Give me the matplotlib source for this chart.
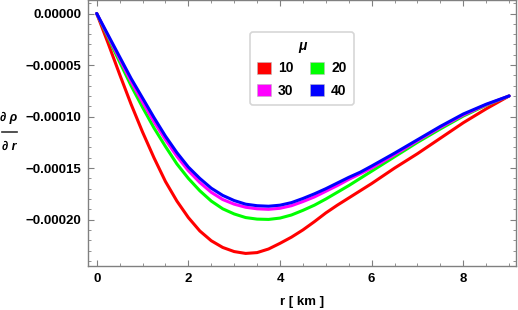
import numpy as np
import matplotlib
matplotlib.use("Agg")
import matplotlib.pyplot as plt
from matplotlib.patches import Patch
from matplotlib.lines import Line2D
from matplotlib.ticker import MultipleLocator, FuncFormatter

plt.rcParams['font.family'] = ['Liberation Sans', 'DejaVu Sans']

# radius in km
r = [0, 0.25, 0.5, 0.75, 1.0, 1.25, 1.5, 1.75, 2.0, 2.25, 2.5, 2.75, 3.0, 3.25, 3.5, 3.75,
     4.0, 4.25, 4.5, 4.75, 5.0, 5.25, 5.5, 5.75, 6.0, 6.5, 7.0, 7.5, 8.0, 8.5, 9.0]

# d rho / d r, in units of 1e-5
drho_10 = [0, -2.9, -5.9, -8.8, -11.5, -14.0, -16.3, -18.2, -19.8, -21.1, -22.05, -22.7, -23.1, -23.28, -23.2, -22.85,
           -22.3, -21.7, -21.0, -20.2, -19.35, -18.6, -17.9, -17.2, -16.5, -15.0, -13.6, -12.1, -10.6, -9.25, -8.0]
drho_20 = [0, -2.35, -4.7, -7.0, -9.1, -11.1, -12.9, -14.6, -16.0, -17.2, -18.2, -18.95, -19.45, -19.8, -19.95, -19.98,
           -19.85, -19.55, -19.1, -18.6, -18.0, -17.35, -16.7, -16.0, -15.3, -13.9, -12.5, -11.2, -9.95, -8.9, -8.0]
drho_30 = [0, -2.2, -4.4, -6.6, -8.6, -10.5, -12.25, -13.85, -15.25, -16.4, -17.35, -18.05, -18.5, -18.8, -18.95, -19.0,
           -18.9, -18.65, -18.25, -17.8, -17.25, -16.7, -16.1, -15.55, -15.0, -13.7, -12.35, -11.05, -9.85, -8.85, -8.0]
drho_40 = [0, -2.1, -4.2, -6.3, -8.2, -10.1, -11.9, -13.5, -14.9, -16.0, -16.95, -17.65, -18.15, -18.5, -18.65, -18.7,
           -18.6, -18.35, -17.95, -17.5, -17.0, -16.45, -15.9, -15.4, -14.8, -13.55, -12.25, -10.95, -9.75, -8.8, -8.0]

mu_labels = ['10', '20', '30', '40']
colors = ['#ff0000', '#00ff00', '#ff00ff', '#0000ff']
series = [drho_10, drho_20, drho_30, drho_40]

fig = plt.figure(figsize=(5.18, 3.10), dpi=100)
ax = fig.add_axes([88/518, 44/310, 428/518, 266/310])

for ys, c in zip(series, colors):
    ax.plot(r, np.array(ys) * 1e-5, color=c, lw=2.2, solid_capstyle='round')

ax.set_xlim(-0.19, 9.15)
ax.set_ylim(-0.000245, 0.0000131)

ax.xaxis.set_major_locator(MultipleLocator(2))
ax.xaxis.set_minor_locator(MultipleLocator(0.5))
ax.yaxis.set_major_locator(MultipleLocator(0.00005))
ax.yaxis.set_minor_locator(MultipleLocator(0.00001))
ax.yaxis.set_major_formatter(FuncFormatter(lambda v, p: ('%.5f' % v).replace('-', '\u2212') if abs(v) > 1e-12 else '0.00000'))

for s in ax.spines.values():
    s.set_color('#808080')
    s.set_linewidth(1.0)
ax.tick_params(which='both', direction='in', top=True, right=True, color='#808080')
ax.tick_params(which='major', length=4, width=0.8, labelsize=9.5, pad=5)
ax.tick_params(which='minor', length=2.5, width=0.6)
for lab in ax.get_xticklabels() + ax.get_yticklabels():
    lab.set_fontweight('bold')

fig.text(302/518, 1 - 302/310, 'r [ km ]', fontsize=9.5, fontweight='bold', ha='center', va='center')

# fraction style y label
fig.text(9/518, 1 - 118/310, '∂ ρ', fontsize=9, fontweight='bold', fontstyle='italic', ha='center', va='center')
fig.add_artist(Line2D([2/518, 17/518], [1 - 132/310, 1 - 132/310], color='#333333', lw=1.2))
fig.text(9/518, 1 - 147/310, '∂ r', fontsize=9, fontweight='bold', fontstyle='italic', ha='center', va='center')

order = [0, 2, 1, 3]
handles = [Patch(facecolor=colors[i], edgecolor='#bbbbbb', linewidth=0.4) for i in order]
leg = ax.legend(handles, [mu_labels[i] for i in order], ncol=2, loc='upper center',
                bbox_to_anchor=(0.5, 0.905), title='μ', frameon=True, fancybox=True,
                handlelength=1.0, handleheight=1.0, handletextpad=0.5, columnspacing=1.2,
                labelspacing=0.6, borderpad=0.5,
                prop={'weight': 'bold', 'size': 10},
                title_fontproperties={'weight': 'bold', 'style': 'italic', 'size': 10})
leg.get_frame().set_edgecolor('#cccccc')
leg.get_frame().set_linewidth(1.2)

fig.savefig('out.png', dpi=100)
